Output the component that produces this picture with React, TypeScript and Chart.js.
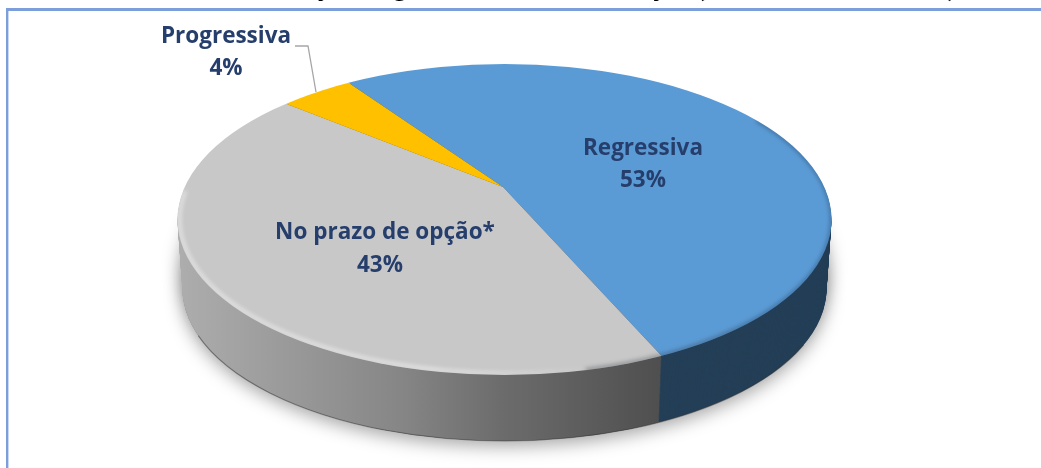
import React, { useEffect, useRef } from "react";
import { Chart, registerables } from "chart.js";

Chart.register(...registerables);

const categories = ["Regressiva", "No prazo de opção*", "Progressiva"];
const shares = [53.0, 42.6, 4.4];
const faceColors = ["#5b9bd5", "#c8c8c8", "#ffc000"];
const wallColors = ["#243f57", "#777777", "#7f6000"];
const titleText = "Distribuição Regime Atual de Tributação (Número de Adesões)";
const labelColor = "#263e6c";
const labelFont = "bold 22.5px 'Open Sans', sans-serif";

const CX = 504.5, CY = 219.5, A = 327, B = 155.5;
const APEX_X = 503, APEX_Y = 187, K = 0.45, S = 2.3;
const DEPTH = 69;

const ellipsePath = (ctx: CanvasRenderingContext2D, t: number, grow = 0) => {
  ctx.beginPath();
  ctx.ellipse(CX, CY + DEPTH * t, A - 5 * t + grow, B - 3 * t + grow, 0, 0, Math.PI * 2);
};

const piePlugin = {
  id: "pie3d",
  beforeDatasetsDraw(chart: any) {
    const ctx: CanvasRenderingContext2D = chart.ctx;
    const arcs = chart.getDatasetMeta(0).data;
    const lx = arcs[0].x, ly = arcs[0].y;

    ctx.save();
    ctx.shadowColor = "rgba(0,0,0,0.36)";
    ctx.shadowBlur = 18;
    ctx.shadowOffsetY = 5;
    ctx.fillStyle = "#777";
    ellipsePath(ctx, 1);
    ctx.fill();
    ellipsePath(ctx, 0.6);
    ctx.fill();
    ctx.restore();

    const paintLayer = (t: number, colors: any[]) => {
      const f = (A - 5 * t) / A;
      const sx = S * f, sy = S * f * K;
      ctx.save();
      ellipsePath(ctx, t);
      ctx.clip();
      ctx.translate(APEX_X, APEX_Y + DEPTH * t);
      ctx.scale(sx, sy);
      ctx.translate(-lx, -ly);
      arcs.forEach((arc: any, i: number) => {
        const saved = arc.options;
        let fill = colors[i];
        if (i === 1 && t > 0) {
          const toLocal = (X: number) => (X - APEX_X) / sx + lx;
          const g = ctx.createLinearGradient(toLocal(180), 0, toLocal(660), 0);
          g.addColorStop(0, "#adadad");
          g.addColorStop(0.15, "#a0a0a0");
          g.addColorStop(0.46, "#868686");
          g.addColorStop(0.67, "#6c6c6c");
          g.addColorStop(1, "#4f4f4f");
          fill = g;
        }
        arc.options = { ...saved, backgroundColor: fill };
        arc.draw(ctx);
        arc.options = saved;
      });
      ctx.restore();
    };

    for (let d = DEPTH; d > 0; d -= 1) paintLayer(d / DEPTH, wallColors);
    paintLayer(0, faceColors);

    // dark line along the wall's foot
    ctx.save();
    ctx.beginPath();
    ctx.ellipse(CX, CY + DEPTH, A - 5, B - 3, 0, Math.PI * 0.12, Math.PI * 0.9);
    ctx.strokeStyle = "rgba(45,45,45,0.45)";
    ctx.lineWidth = 1.1;
    ctx.stroke();
    ctx.restore();

    // bevel of the pie's top face
    ctx.save();
    ellipsePath(ctx, 0);
    ctx.clip();
    ctx.filter = "blur(2px)";
    const light = ctx.createLinearGradient(180, 0, 600, 0);
    light.addColorStop(0, "rgba(255,255,255,0.6)");
    light.addColorStop(0.6, "rgba(255,255,255,0.65)");
    light.addColorStop(1, "rgba(255,255,255,0)");
    ctx.beginPath();
    ctx.ellipse(CX, CY, A - 2, B - 2, 0, Math.PI * 0.42, Math.PI * 1.06);
    ctx.strokeStyle = light;
    ctx.lineWidth = 3;
    ctx.stroke();
    ctx.beginPath();
    ctx.ellipse(CX, CY, A, B, 0, Math.PI * 0.25, Math.PI * 0.42);
    ctx.strokeStyle = "rgba(45,50,60,0.4)";
    ctx.lineWidth = 4;
    ctx.stroke();
    ctx.beginPath();
    ctx.ellipse(CX, CY, A, B, 0, -Math.PI * 0.22, Math.PI * 0.25);
    ctx.strokeStyle = "rgba(25,50,80,0.55)";
    ctx.lineWidth = 2.5;
    ctx.stroke();
    ctx.restore();

    return false;
  },
  afterDraw(chart: any) {
    const ctx: CanvasRenderingContext2D = chart.ctx;
    ctx.save();
    ctx.textBaseline = "alphabetic";

    // title: only the descenders are on the page
    ctx.textAlign = "left";
    ctx.fillStyle = "#000";
    ctx.font = "bold 27px Lato, sans-serif";
    ctx.fillText(titleText, 210, -3);

    // leader line of the small slice
    ctx.strokeStyle = "#a6a6a6";
    ctx.lineWidth = 1.3;
    ctx.beginPath();
    ctx.moveTo(295, 46);
    ctx.lineTo(308, 46);
    ctx.lineTo(316, 92);
    ctx.stroke();

    ctx.textAlign = "center";
    ctx.fillStyle = labelColor;
    ctx.font = labelFont;
    const spots = [[643, 155, 187], [385, 239, 272], [226, 43, 75]];
    categories.forEach((name, i) => {
      ctx.fillText(name, spots[i][0], spots[i][1]);
      ctx.fillText(Math.round(shares[i]) + "%", spots[i][0] - (i === 1 ? 5 : 0), spots[i][2]);
    });
    ctx.restore();
  },
  beforeDraw(chart: any) {
    const ctx: CanvasRenderingContext2D = chart.ctx;
    ctx.save();
    ctx.fillStyle = "#ffffff";
    ctx.fillRect(0, 0, chart.width, chart.height);
    ctx.fillStyle = "#7c9fdb";
    ctx.fillRect(6, 8, 1035, 3);
    ctx.fillRect(6, 8, 2.4, 460);
    ctx.restore();
  },
};

export default function App() {
  const ref = useRef<HTMLCanvasElement>(null);
  useEffect(() => {
    const chart = new Chart(ref.current!, {
      type: "pie",
      data: {
        labels: categories,
        datasets: [{ data: shares, backgroundColor: faceColors, borderWidth: 0 }],
      },
      options: {
        animation: false,
        responsive: false,
        rotation: -33.7,
        plugins: { legend: { display: false }, tooltip: { enabled: false } },
      },
      plugins: [piePlugin],
    });
    return () => chart.destroy();
  }, []);
  return (
    <canvas
      ref={ref}
      width={1041}
      height={468}
      style={{ position: "absolute", left: 0, top: 0, width: 1041, height: 468, filter: "blur(0.6px)" }}
    />
  );
}
